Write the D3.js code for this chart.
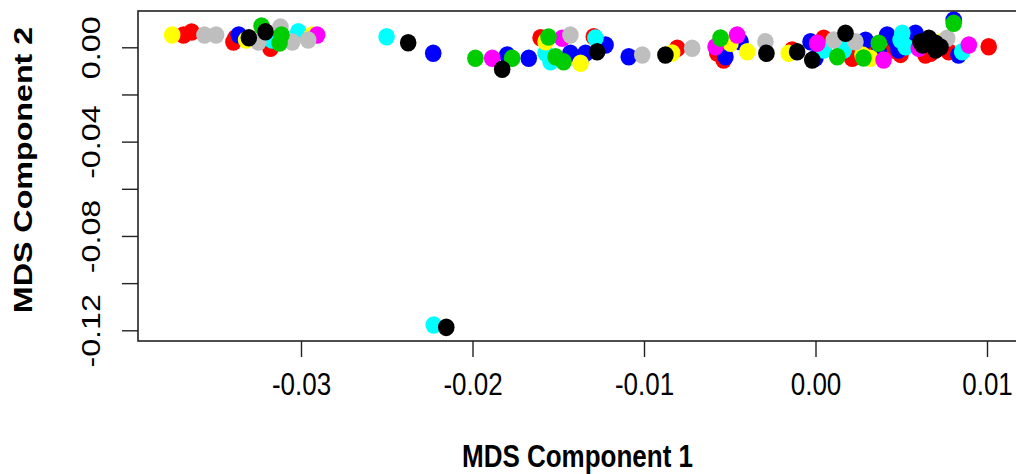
<!DOCTYPE html>
<html><head><meta charset="utf-8">
<script src="https://cdn.jsdelivr.net/npm/d3@7"></script>
<style>body{margin:0;background:#fff}svg{display:block}</style>
</head><body><svg id="c" width="1016" height="474"></svg>
<script>
const xTicks = [-0.03, -0.02, -0.01, 0.00, 0.01];
const xTickLabels = ["-0.03", "-0.02", "-0.01", "0.00", "0.01"];
const yTicks = [0.00, -0.02, -0.04, -0.06, -0.08, -0.10, -0.12];
const yTickLabels = ["0.00", "", "-0.04", "", "-0.08", "", "-0.12"];
const xTitle = "MDS Component 1";
const yTitle = "MDS Component 2";

const redX = [-0.03685, -0.03638, -0.03394, -0.03382, -0.03178, -0.01603, -0.01293, -0.00806, -0.00573, -0.00536, -0.00136, 0.00048, 0.00214, 0.00321, 0.00455, 0.00496, 0.00641, 0.00671, 0.00777, 0.01010];
const redY = [0.00522, 0.00649, 0.00225, 0.00394, -0.00042, 0.00407, 0.00450, -0.00042, -0.00242, -0.00539, -0.00115, 0.00382, -0.00466, -0.00060, -0.00115, -0.00300, -0.00327, -0.00254, -0.00187, 0.00025];
const blueX = [-0.03363, -0.02229, -0.01798, -0.01672, -0.01429, -0.01341, -0.01224, -0.01089, -0.00525, -0.00437, -0.00029, 0.00000, 0.00292, 0.00369, 0.00418, 0.00470, 0.00484, 0.00583, 0.00806, 0.00834];
const blueY = [0.00522, -0.00254, -0.00327, -0.00466, -0.00254, -0.00254, 0.00098, -0.00399, -0.00399, 0.00237, 0.00237, -0.00454, 0.00300, -0.00187, 0.00522, 0.00250, -0.00115, 0.00594, 0.01158, -0.00327];
const cyanX = [-0.03168, -0.03016, -0.02501, -0.01574, -0.01545, -0.01283, 0.00048, 0.00165, 0.00496, 0.00506, 0.00525, 0.00855, -0.02226];
const cyanY = [0.00310, 0.00662, 0.00450, -0.00242, -0.00611, 0.00394, -0.00115, -0.00115, 0.00310, 0.00594, 0.00025, -0.00187, -0.11777];
const yellowX = [-0.03751, -0.03320, -0.02935, -0.01574, -0.01370, -0.00836, -0.00496, -0.00398, -0.00156, 0.00274, 0.00321, 0.00729];
const yellowY = [0.00522, 0.00310, 0.00522, 0.00237, -0.00679, -0.00242, 0.00170, -0.00187, -0.00254, -0.00327, -0.00466, 0.00225];
const magentaX = [-0.02906, -0.01885, -0.01477, -0.00583, -0.00457, 0.00010, 0.00397, 0.00602, 0.00894];
const magentaY = [0.00522, -0.00466, 0.00382, 0.00025, 0.00522, 0.00170, -0.00539, -0.00042, 0.00098];
const grayX = [-0.03563, -0.03495, -0.03248, -0.03120, -0.03051, -0.02958, -0.01429, -0.01010, -0.00719, -0.00292, 0.00107, 0.00233, 0.00768];
const grayY = [0.00522, 0.00522, 0.00225, 0.00861, 0.00225, 0.00310, 0.00522, -0.00327, -0.00042, 0.00237, 0.00310, 0.00237, 0.00382];
const greenX = [-0.03230, -0.03114, -0.03125, -0.01983, -0.01769, -0.01557, -0.01469, -0.01516, -0.00554, 0.00127, 0.00369, 0.00280, 0.00806];
const greenY = [0.00903, 0.00522, 0.00182, -0.00466, -0.00466, 0.00437, -0.00611, -0.00399, 0.00394, -0.00399, 0.00170, -0.00454, 0.01018];
const blackX = [-0.03304, -0.03207, -0.02375, -0.01827, -0.01273, -0.00875, -0.00286, -0.00107, -0.00019, 0.00175, 0.00612, 0.00624, 0.00661, 0.00700, 0.00700, 0.00729, -0.02153];
const blackY = [0.00407, 0.00662, 0.00195, -0.00933, -0.00187, -0.00327, -0.00254, -0.00187, -0.00539, 0.00594, 0.00225, 0.00098, 0.00382, 0.00170, -0.00115, 0.00013, -0.11874];

const groups = [
  {color: "#FF0000", xs: redX, ys: redY},
  {color: "#0000FF", xs: blueX, ys: blueY},
  {color: "#00FFFF", xs: cyanX, ys: cyanY},
  {color: "#FFFF00", xs: yellowX, ys: yellowY},
  {color: "#FF00FF", xs: magentaX, ys: magentaY},
  {color: "#BEBEBE", xs: grayX, ys: grayY},
  {color: "#00CD00", xs: greenX, ys: greenY},
  {color: "#000000", xs: blackX, ys: blackY}
];

const svg = d3.select("#c");
const plotL = 138, plotT = 11, plotB = 341, plotR = 1020;
const x = d3.scaleLinear().domain([-0.03, 0.01]).range([301, 987]);
const y = d3.scaleLinear().domain([0, -0.12]).range([47.3, 330.3]);
const SY = 1.24; // vertical stretch of the original rendering

const FONT = "'Liberation Sans', Arial, Helvetica, sans-serif";

// points
groups.forEach(g => {
  svg.append("g").selectAll("ellipse").data(g.xs.map((v, i) => [v, g.ys[i]]))
    .enter().append("ellipse")
    .attr("cx", d => x(d[0])).attr("cy", d => y(d[1]))
    .attr("rx", 8.3).attr("ry", 8.8).attr("fill", g.color);
});

// box
svg.append("rect").attr("x", plotL).attr("y", plotT)
  .attr("width", plotR - plotL).attr("height", plotB - plotT)
  .attr("fill", "none").attr("stroke", "#222").attr("stroke-width", 1.6);

// x axis
const xAxis = d3.axisBottom(x).tickValues(xTicks)
  .tickFormat((d, i) => xTickLabels[i]).tickSize(16);
const gx = svg.append("g").attr("transform", `translate(0,${plotB})`).call(xAxis);
gx.select(".domain").remove();
gx.selectAll(".tick line").attr("stroke", "#222").attr("stroke-width", 1.4);
gx.selectAll(".tick text")
  .attr("font-family", FONT).attr("font-size", 26).attr("fill", "#000")
  .attr("y", 0).attr("dy", null)
  .attr("transform", `translate(0,${394.5 - plotB}) scale(1,${SY})`);

// y axis
const yAxis = d3.axisLeft(y).tickValues(yTicks)
  .tickFormat((d, i) => yTickLabels[i]).tickSize(16);
const gy = svg.append("g").attr("transform", `translate(${plotL},0)`).call(yAxis);
gy.select(".domain").remove();
gy.selectAll(".tick line").attr("stroke", "#222").attr("stroke-width", 1.4);
gy.selectAll(".tick text")
  .attr("font-family", FONT).attr("font-size", 26).attr("fill", "#000")
  .attr("x", 0).attr("y", 0).attr("dy", null).attr("text-anchor", "middle")
  .attr("transform", `translate(${99.5 - plotL},0) scale(1,${SY}) rotate(-90)`);

// titles
svg.append("text").attr("transform", `translate(577.5,467) scale(1,${SY})`)
  .attr("text-anchor", "middle").attr("font-family", FONT)
  .attr("font-weight", "bold").attr("font-size", 26).text(xTitle);
svg.append("text").attr("transform", `translate(32,170) scale(1,${SY}) rotate(-90)`)
  .attr("text-anchor", "middle").attr("font-family", FONT)
  .attr("font-weight", "bold").attr("font-size", 26).text(yTitle);
</script>
</body></html>
